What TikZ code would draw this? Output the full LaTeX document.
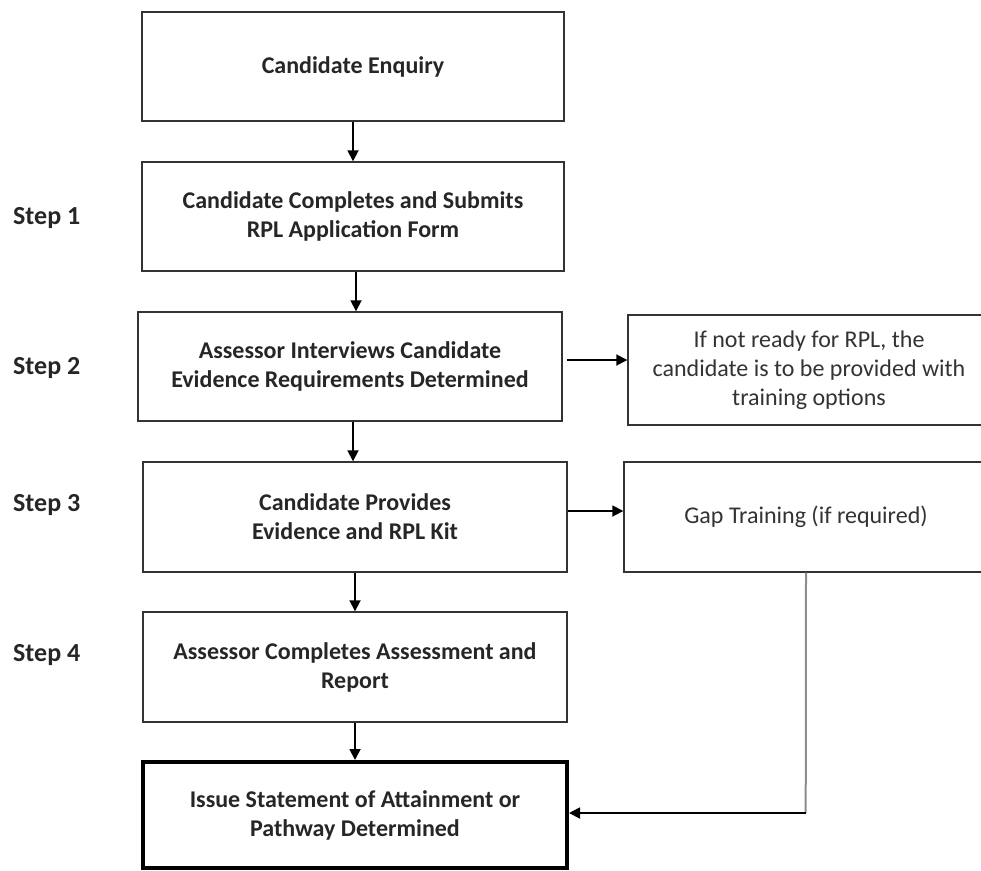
\documentclass[tikz,border=0pt]{standalone}
\usepackage{fontspec}
\setmainfont{Carlito}
\usetikzlibrary{arrows.meta,calc}
\definecolor{edge}{HTML}{333333}
\tikzset{
  box/.style={draw=edge, line width=1.4pt, rectangle, align=center, inner sep=0pt,
    font=\fontsize{24}{29}\selectfont\bfseries, text=black!85},
  sidebox/.style={box, font=\fontsize{24}{29}\selectfont, text=black!80},
  finalbox/.style={box, line width=4pt, draw=black},
  steplabel/.style={font=\fontsize{26}{29}\selectfont\bfseries, text=black!85, anchor=west, inner sep=0pt},
  arr/.style={draw=black, line width=1.8pt, -{Triangle[length=11pt,width=11pt]}},
  link/.style={draw=gray!90, line width=2pt}
}
\begin{document}
\begin{tikzpicture}[x=1pt,y=-1pt]
\useasboundingbox (0,0) rectangle (981,870);
\node[box, minimum width=422pt, minimum height=109pt] (b1) at (353,66.5) {Candidate Enquiry};
\node[box, minimum width=422pt, minimum height=109pt] (b2) at (353,216.5) {Candidate Completes and Submits\\RPL Application Form};
\node[box, minimum width=424pt, minimum height=109pt] (b3) at (350,366.5) {Assessor Interviews Candidate\\Evidence Requirements Determined};
\node[box, minimum width=424pt, minimum height=110pt] (b4) at (355,517) {Candidate Provides\\Evidence and RPL Kit};
\node[box, minimum width=424pt, minimum height=110pt] (b5) at (355,667) {Assessor Completes Assessment and\\Report};
\node[finalbox, minimum width=424pt, minimum height=106pt] (b6) at (355,815) {Issue Statement of Attainment or\\Pathway Determined};
\node[sidebox, minimum width=362pt, minimum height=110pt] (r1) at (809,370) {If not ready for RPL, the\\candidate is to be provided with\\training options};
\node[sidebox, minimum width=364pt, minimum height=110pt] (r2) at (806,517) {Gap Training (if required)};

\node[steplabel] (s1) at (13,218) {Step 1};
\node[steplabel] (s2) at (13,368) {Step 2};
\node[steplabel] (s3) at (13,505) {Step 3};
\node[steplabel] (s4) at (13,655) {Step 4};

\draw[arr] (b1.south) -- (b1.south |- b2.north);
\draw[arr] ([xshift=3pt]b2.south) -- ([xshift=3pt]b2.south |- b3.north);
\draw[arr] ([xshift=3pt]b3.south) -- ([xshift=3pt]b3.south |- b4.north);
\draw[arr] (b4.south) -- (b4.south |- b5.north);
\draw[arr] (b5.south) -- (b5.south |- b6.north);
\draw[arr] ([xshift=4pt,yshift=6.5pt]b3.east) -- ([yshift=6.5pt]b3.east -| r1.west);
\draw[arr] ([yshift=6pt]b4.east) -- ([yshift=6pt]b4.east -| r2.west);
\coordinate (corner) at ([xshift=-0.3pt]r2.south |- 0,813);
\draw[link] (r2.south) -- (corner);
\draw[arr] (corner) -- (corner -| b6.east);
\end{tikzpicture}
\end{document}
